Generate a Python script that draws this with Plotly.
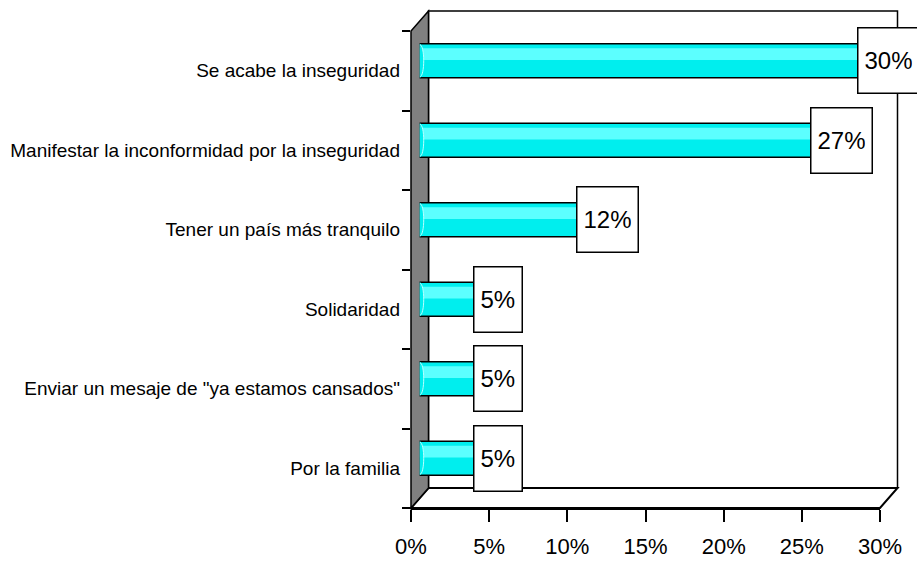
import plotly.graph_objects as go

# ---- data ----
categories = [
    "Se acabe la inseguridad",
    "Manifestar la inconformidad por la inseguridad",
    "Tener un país más tranquilo",
    "Solidaridad",
    'Enviar un mesaje de "ya estamos cansados"',
    "Por la familia",
]
values = [30, 27, 12, 5, 5, 5]
value_labels = ["30%", "27%", "12%", "5%", "5%", "5%"]
x_tickvals = [0, 5, 10, 15, 20, 25, 30]
x_ticktext = ["0%", "5%", "10%", "15%", "20%", "25%", "30%"]

# ---- layout constants (pixels) ----
W, H = 917, 565
FX0, FX1 = 411, 880      # front plot area x
FY0, FY1 = 31, 508       # front plot area y (top, bottom)
DX, DY = 17.5, 20        # depth offset of back wall
MX, MY = DX / 2, DY / 2  # bars sit at mid depth
BAR_PX = 34

FONT = "Liberation Sans Narrow, Arial Narrow, Liberation Sans, Arial, sans-serif"
CYAN = "#00EEEE"

def px_x(px):
    return px / W

def px_y(py):
    return 1 - py / H

cat_order = list(reversed(categories))   # bottom -> top
cat_px = (FY1 - FY0) / len(categories)
bar_w = BAR_PX / cat_px

fig = go.Figure()

# invisible trace so that the front (axis) subplot is drawn
fig.add_trace(go.Scatter(
    x=values, y=categories, mode="markers",
    marker=dict(opacity=0), hoverinfo="skip", showlegend=False,
))

# main cylinder body
fig.add_trace(go.Bar(
    x=values, y=categories, orientation="h",
    xaxis="x2", yaxis="y2",
    width=bar_w,
    marker=dict(color=CYAN, line=dict(color="black", width=1.5)),
    hoverinfo="skip", showlegend=False,
))
# highlight band (upper part of cylinder)
fig.add_trace(go.Bar(
    x=values, y=categories, orientation="h",
    xaxis="x2", yaxis="y2",
    width=bar_w * 0.35, offset=bar_w * 0.02,
    marker=dict(color="#5CFFFF", line=dict(width=0)),
    hoverinfo="skip", showlegend=False,
))

shapes = []
# back wall
shapes.append(dict(type="rect", xref="paper", yref="paper", layer="below",
                   x0=px_x(FX0 + DX), x1=px_x(FX1 + DX),
                   y0=px_y(FY1 - DY), y1=px_y(FY0 - DY),
                   fillcolor="white", line=dict(color="black", width=1.5)))
# floor
shapes.append(dict(type="path", xref="paper", yref="paper", layer="below",
                   path=f"M {px_x(FX0)},{px_y(FY1)} L {px_x(FX0+DX)},{px_y(FY1-DY)} "
                        f"L {px_x(FX1+DX)},{px_y(FY1-DY)} L {px_x(FX1)},{px_y(FY1)} Z",
                   fillcolor="white", line=dict(color="black", width=2)))
# left side wall (gray)
shapes.append(dict(type="path", xref="paper", yref="paper", layer="below",
                   path=f"M {px_x(FX0)},{px_y(FY1)} L {px_x(FX0+DX)},{px_y(FY1-DY)} "
                        f"L {px_x(FX0+DX)},{px_y(FY0-DY)} L {px_x(FX0)},{px_y(FY0)} Z",
                   fillcolor="#808080", line=dict(color="black", width=1.5)))

# cylinder end caps
half = BAR_PX / 2
for cat in categories:
    idx = cat_order.index(cat)
    shapes.append(dict(type="circle", xref="x2", yref="y2", layer="above",
                       xsizemode="pixel", xanchor=0, x0=-4, x1=4,
                       ysizemode="pixel", yanchor=idx, y0=-half, y1=half,
                       fillcolor=CYAN, line=dict(width=0)))
    shapes.append(dict(type="path", xref="x2", yref="y2", layer="above",
                       xsizemode="pixel", xanchor=0,
                       ysizemode="pixel", yanchor=idx,
                       path=f"M 0,{half} C -5.3,{half} -5.3,{-half} 0,{-half}",
                       line=dict(color="black", width=1.5)))
    shapes.append(dict(type="path", xref="x2", yref="y2", layer="above",
                       xsizemode="pixel", xanchor=0,
                       ysizemode="pixel", yanchor=idx,
                       path=f"M 0,{half-1} C 5.3,{half-1} 5.3,{-half+1} 0,{-half+1}",
                       line=dict(color="#B8FFFF", width=1)))

annotations = []
for cat, v, lab in zip(categories, values, value_labels):
    annotations.append(dict(
        x=v, y=cat, xref="x2", yref="y2", text=lab, showarrow=False,
        font=dict(family=FONT, size=24, color="black"),
        bgcolor="white", bordercolor="black", borderwidth=1.5,
        borderpad=6, height=52, valign="middle",
    ))

fig.update_layout(
    width=W, height=H,
    margin=dict(l=0, r=0, t=0, b=0),
    paper_bgcolor="white", plot_bgcolor="rgba(0,0,0,0)",
    barmode="overlay",
    font=dict(family=FONT, color="black"),
    shapes=shapes, annotations=annotations,
    xaxis=dict(domain=[px_x(FX0), px_x(FX1)], range=[0, 30], anchor="y",
               tickvals=x_tickvals, ticktext=x_ticktext,
               ticks="outside", ticklen=12, tickwidth=1.5, tickcolor="black",
               showline=True, linecolor="black", linewidth=2,
               showgrid=False, zeroline=False, automargin=False,
               ticklabelstandoff=6,
               tickfont=dict(size=22, family=FONT)),
    yaxis=dict(domain=[px_y(FY1), px_y(FY0)], type="category",
               categoryorder="array", categoryarray=cat_order,
               range=[-0.5, len(categories) - 0.5], anchor="x",
               tickson="boundaries", ticks="outside", ticklen=8,
               tickwidth=1.5, tickcolor="black",
               showline=False, showgrid=False, zeroline=False, automargin=False,
               ticklabelstandoff=10,
               tickfont=dict(size=19, family=FONT)),
    xaxis2=dict(domain=[px_x(FX0 + MX), px_x(FX1 + MX)], range=[0, 30],
                anchor="y2", visible=False),
    yaxis2=dict(domain=[px_y(FY1 - MY), px_y(FY0 - MY)], type="category",
                categoryorder="array", categoryarray=cat_order,
                range=[-0.5, len(categories) - 0.5], anchor="x2", visible=False),
)

fig.write_html("out.html",
               config={"displayModeBar": False},
               post_script="document.body.style.margin='0px';")
